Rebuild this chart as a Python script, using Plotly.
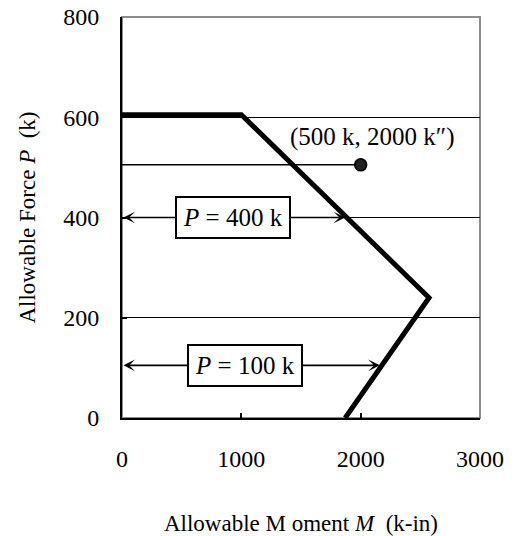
import plotly.graph_objects as go

# ---- data ----
curve_M = [0, 1000, 2573, 1870]
curve_P = [605, 605, 240, 0]
point_M = [2000]
point_P = [505]
lead_M = [0, 2000]
lead_P = [505, 505]
point_label = "(500 k, 2000 k\u2033)"
point_label_M = 2100
point_label_P = 561
arrow_P = [400, 105]
arrow_M_start = [0, 0]
arrow_M_end = [1870, 2160]
box_texts = ["<i>P</i> = 400 k", "<i>P</i> = 100 k"]
box_M = [926, 1027]
x_ticks = [0, 1000, 2000, 3000]
y_ticks = [0, 200, 400, 600, 800]

FONT = "Liberation Serif, Times New Roman, serif"

fig = go.Figure()

fig.add_trace(go.Scatter(x=lead_M, y=lead_P, mode="lines",
                         line=dict(color="black", width=1.5),
                         hoverinfo="skip", showlegend=False))
fig.add_trace(go.Scatter(x=curve_M, y=curve_P, mode="lines",
                         line=dict(color="black", width=5),
                         showlegend=False))
fig.add_trace(go.Scatter(x=point_M, y=point_P, mode="markers",
                         marker=dict(size=12, color="#222222",
                                     line=dict(color="black", width=1.5)),
                         showlegend=False))

annotations = []
for p, m0, m1, txt, bm in zip(arrow_P, arrow_M_start, arrow_M_end, box_texts, box_M):
    annotations.append(dict(
        x=m1, y=p, ax=m0, ay=p, xref="x", yref="y", axref="x", ayref="y",
        text="", showarrow=True, arrowhead=3, startarrowhead=3,
        arrowside="end+start", arrowsize=1.2, startarrowsize=1.2,
        arrowwidth=1.6, arrowcolor="black"))
    annotations.append(dict(
        x=bm, y=p, xref="x", yref="y", text=txt, showarrow=False,
        font=dict(family=FONT, size=25, color="black"),
        bgcolor="white", bordercolor="black", borderwidth=2, borderpad=6))

annotations.append(dict(
    x=point_label_M, y=point_label_P, xref="x", yref="y", text=point_label,
    showarrow=False, font=dict(family=FONT, size=25, color="black")))

fig.update_layout(
    width=517, height=536,
    margin=dict(l=122, r=37, t=17, b=118),
    paper_bgcolor="white", plot_bgcolor="white",
    font=dict(family=FONT, size=24, color="black"),
    annotations=annotations,
    shapes=[dict(type="rect", xref="paper", yref="paper", x0=0, y0=0, x1=1, y1=1,
                 line=dict(color="#8c8c8c", width=2), layer="below")],
    xaxis=dict(range=[0, 3000], tickvals=x_ticks, ticktext=[str(v) for v in x_ticks],
               automargin=False,
               showgrid=False, zeroline=False, showline=True, linecolor="black",
               linewidth=2, ticks="inside", ticklen=5, tickwidth=2, tickcolor="black",
               ticklabelstandoff=18,
               title=dict(text="Allowable M oment <i>M</i>\u00a0 (k-in)", standoff=44,
                          font=dict(family=FONT, size=23))),
    yaxis=dict(range=[0, 800], tickvals=y_ticks, ticktext=[str(v) for v in y_ticks],
               automargin=False,
               showgrid=True, gridcolor="black", gridwidth=1, zeroline=False,
               showline=True, linecolor="black", linewidth=2,
               ticks="inside", ticklen=5, tickwidth=2, tickcolor="black",
               ticklabelstandoff=16,
               title=dict(text="Allowable Force <i>P</i>\u00a0 (k)", standoff=21,
                          font=dict(family=FONT, size=23))),
)

fig.write_html("out.html", config={"displayModeBar": False},
               post_script="document.body.style.margin='0';document.documentElement.style.overflow='hidden';")
